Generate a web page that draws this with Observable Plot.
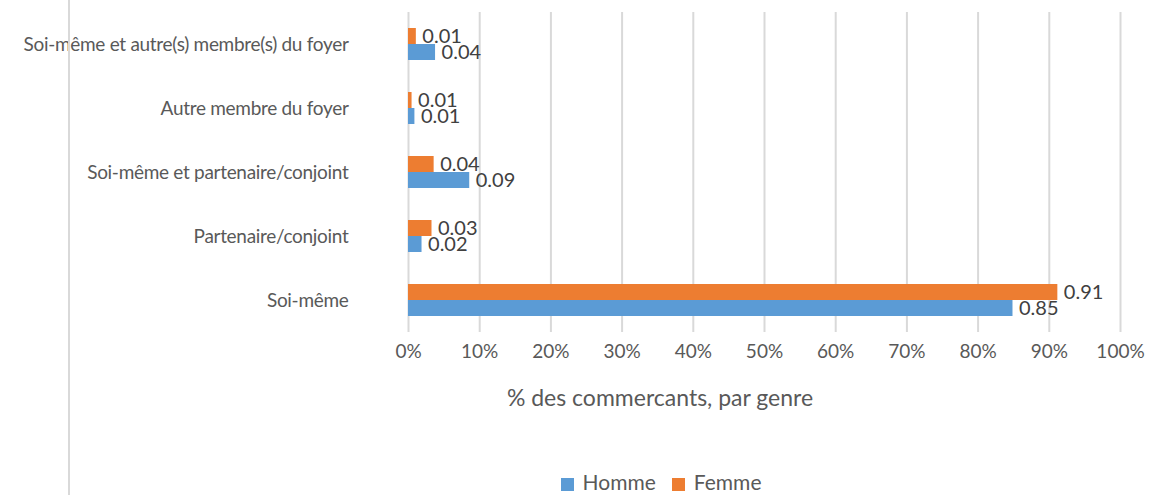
<!DOCTYPE html>
<html>
<head>
<meta charset="utf-8">
<script src="https://cdn.jsdelivr.net/npm/d3@7"></script>
<script src="https://cdn.jsdelivr.net/npm/@observablehq/plot@0.6"></script>
<style>
  html, body { margin: 0; padding: 0; background: #fff; }
  #wrap { position: relative; width: 1149px; height: 495px; font-family: Lato, "Open Sans", sans-serif; overflow: hidden; }
  #vline { position: absolute; left: 68px; top: 0; width: 2px; height: 495px; background: #d9d9d9; }
  #xtitle { position: absolute; left: 0; width: 1320px; top: 383px; text-align: center; font-size: 23px; color: #595959; }
  #legend { position: absolute; left: 0; width: 1322px; top: 469px; text-align: center; font-size: 21px; color: #595959; }
  #legend span.sw { display: inline-block; width: 13px; height: 13px; margin-right: 9px; vertical-align: -1px; }
  #legend span.it + span.it { margin-left: 16px; }
  g[aria-label="fy-axis tick label"] text { letter-spacing: -0.3px; }
</style>
</head>
<body>
<div id="wrap">
  <div id="vline"></div>
  <div id="chart"></div>
  <div id="xtitle"></div>
  <div id="legend"></div>
</div>
<script>
const categories = [
  "Soi-même et autre(s) membre(s) du foyer",
  "Autre membre du foyer",
  "Soi-même et partenaire/conjoint",
  "Partenaire/conjoint",
  "Soi-même"
];
const genres = ["Femme", "Homme"];
const homme = [0.038, 0.009, 0.086, 0.019, 0.849];
const femme = [0.011, 0.005, 0.036, 0.033, 0.912];
const xTicks = [0, 0.1, 0.2, 0.3, 0.4, 0.5, 0.6, 0.7, 0.8, 0.9, 1];
const xTitle = "% des commercants, par genre";
const colors = {Homme: "#5B9BD5", Femme: "#ED7D31"};

const data = [];
categories.forEach((c, i) => {
  data.push({cat: c, genre: "Femme", v: femme[i]});
  data.push({cat: c, genre: "Homme", v: homme[i]});
});

const chart = Plot.plot({
  width: 1149,
  height: 460,
  marginLeft: 408,
  marginRight: 29,
  marginTop: 10,
  marginBottom: 127,
  style: {fontFamily: "Lato, 'Open Sans', sans-serif", color: "#595959", background: "#fff"},
  x: {domain: [0, 1], ticks: xTicks, tickFormat: d3.format(".0%"), label: null},
  y: {domain: genres, paddingInner: 0, paddingOuter: 0.9, axis: null},
  fy: {domain: categories, padding: 0, label: null},
  color: {domain: ["Homme", "Femme"], range: [colors.Homme, colors.Femme]},
  marks: [
    Plot.gridX(xTicks, {stroke: "#d9d9d9", strokeWidth: 2, strokeOpacity: 1}),
    Plot.axisX({ticks: xTicks, tickFormat: d3.format(".0%"), tickSize: 0, tickPadding: 12, fontSize: 19, fill: "#595959", label: null}),
    Plot.axisFy({anchor: "left", tickSize: 0, tickPadding: 60, fontSize: 19, fill: "#595959", label: null}),
    Plot.barX(data, {fy: "cat", y: "genre", x: "v", fill: "genre"}),
    Plot.text(data, {fy: "cat", y: "genre", x: "v", text: d => d3.format(".2f")(d.v), textAnchor: "start", dx: 6, fontSize: 20, fill: "#404040"})
  ]
});
document.getElementById("chart").appendChild(chart);
document.getElementById("xtitle").textContent = xTitle;

const legend = document.getElementById("legend");
["Homme", "Femme"].forEach(g => {
  const it = document.createElement("span");
  it.className = "it";
  const sw = document.createElement("span");
  sw.className = "sw";
  sw.style.background = colors[g];
  it.appendChild(sw);
  it.appendChild(document.createTextNode(g));
  legend.appendChild(it);
});
</script>
</body>
</html>
